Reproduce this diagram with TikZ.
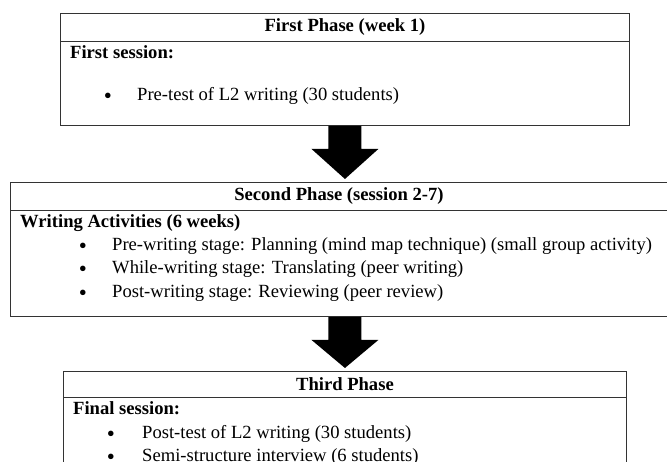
\documentclass[tikz,border=0pt]{standalone}
\usepackage{fontspec}
\setmainfont{Liberation Serif}
\usetikzlibrary{calc}
\begin{document}
\begin{tikzpicture}[x=1pt,y=-1pt,
  frame/.style={draw=black!80, line width=0.9pt, rectangle, inner sep=0pt, anchor=north west},
  hd/.style={frame, font=\fontsize{18.6}{23.5}\selectfont\bfseries},
  txt/.style={font=\fontsize{18.6}{23.5}\selectfont, inner sep=0pt, anchor=west, text height=12.5pt, text depth=4pt},
  lbl/.style={txt, font=\fontsize{18.6}{23.5}\selectfont\bfseries},
  bul/.style={inner sep=0pt, anchor=center, font=\fontsize{23}{23}\selectfont, text height=11pt, text depth=0pt, yshift=-2pt},
  bigarrow/.style={fill=black}]
\useasboundingbox (0,0) rectangle (667,462);
\clip (0,0) rectangle (667,462);
% ---- First phase
\node[hd, minimum width=569pt, minimum height=28pt] (t1) at (60,13) {First Phase (week 1)};
\node[frame, minimum width=569pt, minimum height=84pt] (b1) at (60,41) {};
\node[lbl] (l1) at (70,54) {First session:};
\node[bul] (p1) at (108,96) {\textbullet};
\node[txt] (i1) at (137,96) {Pre-test of L2 writing (30 students)};
% ---- Second phase
\node[hd, minimum width=670pt, minimum height=28pt] (t2) at (10,182) {\hspace*{-13pt}Second Phase (session 2-7)};
\node[frame, minimum width=670pt, minimum height=106pt] (b2) at (10,210) {};
\node[lbl] (l2) at (20,223) {Writing Activities (6 weeks)};
\node[bul] (p2a) at (83,246) {\textbullet};
\node[txt] (i2a) at (112,246) {Pre-writing stage: Planning (mind map technique) (small group activity)};
\node[bul] (p2b) at (83,269.5) {\textbullet};
\node[txt] (i2b) at (112,269.5) {While-writing stage: Translating (peer writing)};
\node[bul] (p2c) at (83,293) {\textbullet};
\node[txt] (i2c) at (112,293) {Post-writing stage: Reviewing (peer review)};
% ---- Third phase
\node[hd, minimum width=563pt, minimum height=26pt] (t3) at (63,371) {Third Phase};
\node[frame, minimum width=563pt, minimum height=100pt] (b3) at (63,397) {};
\node[lbl] (l3) at (73,410) {Final session:};
\node[bul] (p3a) at (111,434) {\textbullet};
\node[txt] (i3a) at (142,434) {Post-test of L2 writing (30 students)};
\node[bul] (p3b) at (111,457) {\textbullet};
\node[txt] (i3b) at (142,457) {Semi-structure interview (6 students)};
% ---- arrows
\coordinate (a1s) at (b1.south);
\coordinate (a1e) at ($(a1s |- t2.north)+(0,-3)$);
\fill[bigarrow] ($(a1s)+(-16.5,0)$) -- ($(a1s)+(-16.5,23)$) -- ($(a1s)+(-33.5,23)$) -- (a1e)
  -- ($(a1s)+(33.5,23)$) -- ($(a1s)+(16.5,23)$) -- ($(a1s)+(16.5,0)$) -- cycle;
\coordinate (a2s) at (b1.south |- b2.south);
\coordinate (a2e) at ($(a2s |- t3.north)+(0,-3)$);
\fill[bigarrow] ($(a2s)+(-16.5,0)$) -- ($(a2s)+(-16.5,23)$) -- ($(a2s)+(-33.5,23)$) -- (a2e)
  -- ($(a2s)+(33.5,23)$) -- ($(a2s)+(16.5,23)$) -- ($(a2s)+(16.5,0)$) -- cycle;
\end{tikzpicture}
\end{document}
